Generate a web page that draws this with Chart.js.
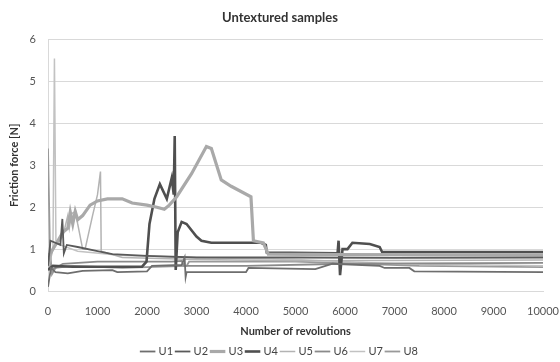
<!DOCTYPE html>
<html>
<head>
<meta charset="utf-8">
<script src="https://cdn.jsdelivr.net/npm/chart.js@4"></script>
<style>
  html, body { margin: 0; padding: 0; background: #ffffff; }
  #wrap { width: 560px; height: 362px; }
</style>
</head>
<body>
<div id="wrap"><canvas id="frictionChart" width="560" height="362"></canvas></div>
<script>
// [revolutions, friction force N]
const u1 = [[0,0.1],[60,0.55],[150,0.45],[400,0.42],[700,0.48],[1300,0.5],[1400,0.45],[2000,0.47],[2100,0.6],[2700,0.62],[2760,0.8],[2780,0.33],[2800,0.45],[4000,0.45],[4050,0.55],[5400,0.52],[5750,0.65],[6700,0.6],[6800,0.55],[7300,0.55],[7400,0.47],[10000,0.45]];
const u2 = [[0,0.6],[50,1.2],[250,1.1],[290,1.72],[320,0.9],[380,1.1],[600,1.05],[1000,0.95],[1300,0.88],[2000,0.84],[3000,0.8],[5000,0.8],[7000,0.79],[10000,0.8]];
const u3 = [[0,0.8],[200,1.2],[300,1.4],[400,1.5],[450,1.88],[500,1.6],[550,1.9],[600,1.7],[700,1.8],[850,2.05],[1000,2.15],[1200,2.2],[1500,2.2],[1700,2.1],[2000,2.05],[2200,2.0],[2350,1.95],[2450,2.05],[2600,2.25],[2900,2.8],[3200,3.45],[3300,3.4],[3500,2.65],[3700,2.5],[4100,2.25],[4150,1.2],[4350,1.15],[4450,0.88],[6000,0.87],[8000,0.86],[10000,0.86]];
const u4 = [[0,0.5],[100,0.6],[500,0.58],[1900,0.58],[1990,0.7],[2050,1.6],[2150,2.2],[2260,2.55],[2400,2.2],[2500,2.7],[2540,2.3],[2560,3.7],[2580,0.5],[2620,1.4],[2700,1.65],[2800,1.6],[3000,1.3],[3100,1.2],[3300,1.15],[4300,1.15],[4400,1.1],[4420,0.92],[5850,0.9],[5870,1.2],[5900,0.38],[5950,1.0],[6050,1.0],[6150,1.15],[6500,1.12],[6700,1.05],[6750,0.93],[10000,0.93]];
const u5 = [[0,0.5],[100,1.0],[300,1.3],[400,1.8],[430,1.5],[480,1.85],[560,1.9],[600,1.6],[700,1.0],[750,1.0],[900,1.8],[1000,2.3],[1060,2.85],[1075,0.95],[1500,0.8],[3000,0.75],[5000,0.72],[10000,0.74]];
const u6 = [[0,0.9],[50,0.5],[150,0.55],[300,0.65],[1000,0.7],[2500,0.7],[2700,0.72],[2750,0.6],[4000,0.6],[6000,0.65],[10000,0.67]];
const u7 = [[0,0.7],[100,1.0],[130,5.55],[160,1.2],[250,1.1],[600,0.95],[1500,0.85],[3000,0.8],[5000,0.75],[7000,0.65],[10000,0.6]];
const u8 = [[0,3.4],[40,1.0],[80,0.4],[150,0.55],[500,0.6],[1500,0.55],[2800,0.6],[2850,0.7],[5000,0.7],[7500,0.6],[10000,0.57]];

const seriesNames = ['U1', 'U2', 'U3', 'U4', 'U5', 'U6', 'U7', 'U8'];
const seriesData = [u1, u2, u3, u4, u5, u6, u7, u8];
const seriesColors = ['#6e6e6e', '#5a5a5a', '#a9a9a9', '#4f4f4f', '#b3b3b3', '#8a8a8a', '#c2c2c2', '#999999'];
const seriesWidths = [1.8, 1.8, 3.2, 2.6, 1.5, 1.8, 1.5, 1.8];

const xTicks = [0, 1000, 2000, 3000, 4000, 5000, 6000, 7000, 8000, 9000, 10000];
const yTicks = [0, 1, 2, 3, 4, 5, 6];

const fontFamily = 'Lato, "Open Sans", sans-serif';

document.addEventListener('DOMContentLoaded', function() {
    const ctx = document.getElementById('frictionChart').getContext('2d');

    const datasets = seriesNames.map(function(name, i) {
        return {
            label: name,
            data: seriesData[i].map(p => ({ x: p[0], y: p[1] })),
            borderColor: seriesColors[i],
            backgroundColor: seriesColors[i],
            borderWidth: seriesWidths[i],
            pointRadius: 0,
            tension: 0
        };
    });

    new Chart(ctx, {
        type: 'line',
        data: { datasets: datasets },
        options: {
            responsive: false,
            animation: false,
            // legend sits a little lower than Chart.js would put it
            layout: { padding: { left: 0, right: 0, top: 0, bottom: -5 } },
            plugins: {
                title: {
                    display: true,
                    text: 'Untextured samples',
                    color: '#333333',
                    font: { family: fontFamily, size: 13, weight: 'bold' },
                    padding: { top: 10, bottom: 14 }
                },
                legend: {
                    position: 'bottom',
                    labels: {
                        usePointStyle: true,
                        pointStyle: 'line',
                        boxWidth: 15,
                        color: '#444444',
                        font: { family: fontFamily, size: 11 },
                        padding: 4
                    }
                },
                tooltip: { enabled: false }
            },
            scales: {
                x: {
                    type: 'linear',
                    min: 0,
                    max: 10000,
                    afterBuildTicks: function(scale) {
                        scale.ticks = xTicks.map(v => ({ value: v }));
                    },
                    afterFit: function(scale) {
                        scale.height = 51;
                        scale.paddingRight = 17;
                    },
                    grid: { display: false, drawTicks: false },
                    border: { display: true, color: '#d9d9d9' },
                    ticks: {
                        color: '#555555',
                        font: { family: fontFamily, size: 11 },
                        padding: 14,
                        maxRotation: 0,
                        callback: function(value) {
                            return String(value);
                        }
                    },
                    title: {
                        display: true,
                        text: 'Number of revolutions',
                        color: '#333333',
                        font: { family: fontFamily, size: 11, weight: 'bold' },
                        padding: { top: 2, bottom: 4 }
                    }
                },
                y: {
                    min: 0,
                    max: 6,
                    afterBuildTicks: function(scale) {
                        scale.ticks = yTicks.map(v => ({ value: v }));
                    },
                    afterFit: function(scale) {
                        scale.width = 48;
                    },
                    grid: { color: '#d9d9d9', drawTicks: false },
                    border: { display: true, color: '#d9d9d9' },
                    ticks: {
                        color: '#555555',
                        font: { family: fontFamily, size: 11 },
                        padding: 12
                    },
                    title: {
                        display: true,
                        text: 'Friction force [N]',
                        color: '#333333',
                        font: { family: fontFamily, size: 11, weight: 'bold' },
                        padding: { top: 8, bottom: 0 }
                    }
                }
            }
        }
    });
});
</script>
</body>
</html>
